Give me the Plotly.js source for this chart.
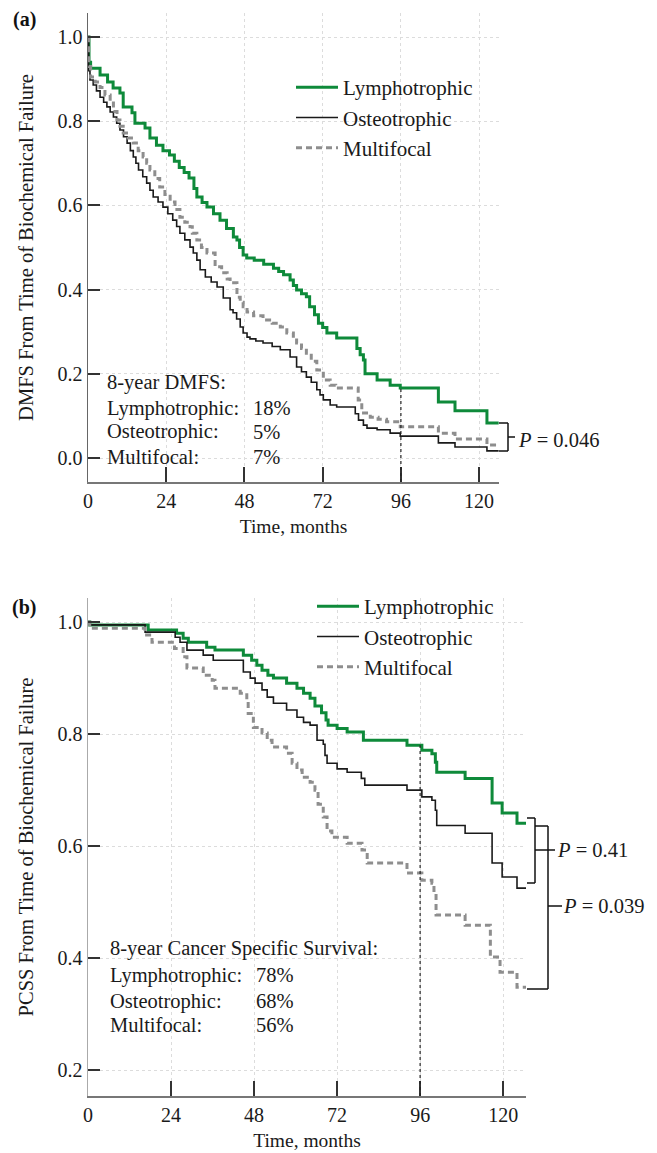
<!DOCTYPE html>
<html>
<head>
<meta charset="utf-8">
<script src="https://cdn.plot.ly/plotly-3.0.1.min.js"></script>
<style>html,body{margin:0;padding:0;background:#fff;}#chart{width:657px;height:1153px;}</style>
</head>
<body>
<div id="chart"></div>
<script>
// ---------- DATA ----------
var seriesNames = ['Lymphotrophic', 'Osteotrophic', 'Multifocal'];
var xTicks = [0, 24, 48, 72, 96, 120];
var yTicksA = [0.0, 0.2, 0.4, 0.6, 0.8, 1.0];
var yTicksB = [0.2, 0.4, 0.6, 0.8, 1.0];

// Panel (a): DMFS step curves (time in months, survival)
var dmfsLymphT = [0,0.3,0.8,3.7,6,7.7,9.8,10.8,13.5,14.4,17.5,19,21,23,25,26.5,28,29.5,31,32.5,33.4,35,36.5,38.5,40.5,42.5,44.6,45.7,46.5,47.6,48.7,51,53.9,56.9,58.5,60,62,63,64,65.5,67,68,69.5,70.7,72,73.3,76.3,82.5,83.5,84.5,85,88.7,92.7,95.8,107.5,112.6,122.4,126];
var dmfsLymphS = [1.0,0.94,0.926,0.91,0.893,0.879,0.867,0.834,0.82,0.795,0.784,0.76,0.743,0.73,0.72,0.705,0.69,0.678,0.665,0.64,0.62,0.607,0.596,0.58,0.565,0.545,0.525,0.518,0.50,0.482,0.475,0.470,0.46,0.451,0.443,0.435,0.423,0.41,0.399,0.39,0.383,0.359,0.34,0.32,0.31,0.297,0.285,0.26,0.245,0.233,0.2,0.185,0.173,0.166,0.133,0.112,0.083,0.083];

var dmfsOsteoT = [0,0.2,0.6,1.6,2.6,3.7,4.8,5.8,6.8,7.8,8.8,9.8,10.9,12,13,13.9,14.7,15.5,16.8,18,19,20,21.5,23,24.5,26,27.2,28.2,29.7,31.3,32.3,33.4,34.4,36,37.8,39.6,41.5,43.6,44.5,45.6,46.7,47.6,48.8,49.7,51.5,53.7,56.5,59,62,64,65.5,67,68.5,70.2,71.2,72.2,74.3,76.3,82,83,84.5,85.6,88.7,92.7,95.8,107.5,112.6,122.4,126];
var dmfsOsteoS = [1.0,0.92,0.898,0.886,0.872,0.857,0.845,0.834,0.822,0.81,0.795,0.779,0.763,0.748,0.73,0.715,0.70,0.684,0.668,0.653,0.636,0.62,0.608,0.596,0.58,0.565,0.55,0.534,0.518,0.501,0.487,0.47,0.447,0.43,0.418,0.406,0.38,0.352,0.345,0.33,0.311,0.297,0.287,0.283,0.278,0.273,0.265,0.257,0.24,0.216,0.205,0.192,0.18,0.162,0.15,0.138,0.126,0.121,0.105,0.09,0.078,0.071,0.067,0.059,0.052,0.036,0.026,0.017,0.017];

var dmfsMultiT = [0,0.2,0.8,2.2,3.7,5.2,6.8,7.8,8.9,9.8,10.8,12.3,13.9,15.4,16.9,18,19,20.5,22,23.6,25.2,26.7,28.2,29.7,31.3,32,33.4,34.8,36.5,39,41,42.7,43.6,45.7,46.7,47.6,48.8,50.8,53.7,56.5,59,61,63,64,65.5,67,68.5,70.2,72.2,74.3,76,82.9,84,86.6,89,91.6,95.8,107.5,112.6,122.4,126];
var dmfsMultiS = [1.0,0.93,0.905,0.893,0.88,0.862,0.843,0.823,0.803,0.788,0.772,0.76,0.748,0.73,0.715,0.70,0.684,0.664,0.644,0.626,0.608,0.59,0.572,0.56,0.549,0.534,0.518,0.50,0.487,0.454,0.44,0.425,0.416,0.382,0.37,0.359,0.347,0.338,0.328,0.32,0.311,0.297,0.285,0.273,0.26,0.249,0.23,0.209,0.185,0.173,0.166,0.138,0.107,0.097,0.092,0.086,0.074,0.059,0.045,0.031,0.031];

// Panel (b): PCSS step curves
var pcssLymphT = [0,0.5,17.4,25.6,27.5,29,34.3,36.7,44.9,47.3,48.8,50.3,52,53.6,57.4,60.4,62.3,64.2,65.6,67.5,68.8,69.4,72,74.9,79.6,92.2,96.5,99.4,100.4,100.8,109,116.8,119.7,124,126.6];
var pcssLymphS = [1.0,0.995,0.986,0.98,0.971,0.964,0.955,0.95,0.941,0.932,0.923,0.914,0.905,0.9,0.891,0.882,0.873,0.864,0.85,0.838,0.825,0.816,0.81,0.804,0.789,0.78,0.771,0.765,0.75,0.732,0.721,0.677,0.659,0.641,0.641];

var pcssOsteoT = [0,0.5,16.5,25.2,26.6,28.6,33.3,36.2,44.9,46.9,48.3,50.3,51.8,53.6,57.4,60.4,62.3,64.2,66.2,68,68.5,69.1,72,74.9,79,80,92.2,96.5,99.4,100.4,100.8,109,116.8,119.7,124,126.6];
var pcssOsteoS = [1.0,0.995,0.982,0.973,0.964,0.95,0.941,0.932,0.911,0.9,0.891,0.879,0.866,0.855,0.843,0.83,0.821,0.816,0.789,0.782,0.762,0.748,0.738,0.732,0.721,0.709,0.70,0.688,0.682,0.664,0.637,0.623,0.57,0.545,0.525,0.525];

var pcssMultiT = [0,0.5,16.5,18.5,25,27.5,28.6,33.3,35.9,36.7,44,45.9,46.3,47.8,50.3,51.8,53.2,57.4,59,60.4,61.9,64.2,65.6,66.5,68,69.1,70.5,74.9,79.2,80.7,92.2,96.5,99.4,100,100.6,109,116.3,119.1,124,126.6];
var pcssMultiS = [1.0,0.989,0.977,0.964,0.953,0.938,0.918,0.905,0.896,0.882,0.873,0.861,0.837,0.812,0.802,0.789,0.777,0.766,0.748,0.736,0.723,0.714,0.70,0.675,0.652,0.627,0.616,0.605,0.593,0.57,0.552,0.539,0.534,0.516,0.477,0.459,0.402,0.375,0.348,0.348];

var dmfsLabels = ['Lymphotrophic:', 'Osteotrophic:', 'Multifocal:'];
var dmfsPct = ['18%', '5%', '7%'];
var pcssPct = ['78%', '68%', '56%'];
var landmarkMonth = 96;
var pA = '0.046', pB1 = '0.41', pB2 = '0.039';

// ---------- STYLE / LAYOUT ----------
var W = 657, H = 1153;
var FONT = 'Liberation Serif, Times New Roman, serif';
var colors = ['#0e8a3a', '#1a1a1a', '#8e8e8e'];
var widths = [3, 1.6, 3];
var dashes = ['solid', 'solid', '6px,4px'];
function px2x(p) { return p / W; }
function px2y(p) { return 1 - p / H; }

var rangeXA = [0, 126.1], rangeYA = [-0.057, 1.057];
var rangeXB = [0, 126.6], rangeYB = [0.154, 1.043];

function stepAt(T, S, t) {
  var v = S[0];
  for (var i = 0; i < T.length; i++) { if (T[i] <= t) v = S[i]; }
  return v;
}

function mk(T, S, i, xa, ya, lg, show) {
  return {
    x: T, y: S, type: 'scatter', mode: 'lines', name: seriesNames[i],
    xaxis: xa, yaxis: ya, legend: lg, showlegend: show,
    line: { color: colors[i], width: widths[i], dash: dashes[i], shape: 'hv' },
    hoverinfo: 'skip'
  };
}

var traces = [
  mk(dmfsLymphT, dmfsLymphS, 0, 'x', 'y', 'legend', true),
  mk(dmfsOsteoT, dmfsOsteoS, 1, 'x', 'y', 'legend', true),
  mk(dmfsMultiT, dmfsMultiS, 2, 'x', 'y', 'legend', true),
  mk(pcssLymphT, pcssLymphS, 0, 'x2', 'y2', 'legend2', true),
  mk(pcssOsteoT, pcssOsteoS, 1, 'x2', 'y2', 'legend2', true),
  mk(pcssMultiT, pcssMultiS, 2, 'x2', 'y2', 'legend2', true)
];

var tickFont = { family: FONT, size: 20, color: '#1a1a1a' };
function xAxis(domain, range, anchor) {
  return {
    domain: domain, range: range, anchor: anchor, tickvals: xTicks,
    ticks: 'inside', ticklen: 15, tickwidth: 2, tickcolor: '#333',
    showline: true, linecolor: '#777', linewidth: 2,
    showgrid: true, gridcolor: '#dcdcdc', griddash: 'dot', gridwidth: 1,
    zeroline: false, tickfont: tickFont, fixedrange: true,
    title: { text: 'Time, months', font: { family: FONT, size: 19.5, color: '#1a1a1a' }, standoff: 8 }
  };
}
function yAxis(domain, range, anchor, ticks, title, lc) {
  return {
    domain: domain, range: range, anchor: anchor, tickvals: ticks, tickformat: '.1f',
    ticks: 'inside', ticklen: 12, tickwidth: 2, tickcolor: '#333',
    showline: true, linecolor: lc, linewidth: 1.5,
    showgrid: true, gridcolor: '#dcdcdc', griddash: 'dot', gridwidth: 1,
    zeroline: false, tickfont: tickFont, fixedrange: true,
    title: { text: title, font: { family: FONT, size: 20.5, color: '#1a1a1a' }, standoff: 18 }
  };
}

var shapes = [];
// landmark dotted verticals at 96 months up to the Lymphotrophic curve
shapes.push({ type: 'line', xref: 'x', yref: 'y', x0: landmarkMonth, x1: landmarkMonth,
  y0: rangeYA[0], y1: stepAt(dmfsLymphT, dmfsLymphS, landmarkMonth), line: { color: '#222', width: 1.2, dash: 'dot' } });
shapes.push({ type: 'line', xref: 'x2', yref: 'y2', x0: landmarkMonth, x1: landmarkMonth,
  y0: rangeYB[0], y1: stepAt(pcssLymphT, pcssLymphS, landmarkMonth), line: { color: '#222', width: 1.2, dash: 'dot' } });

function seg(x0, y0, x1, y1) {
  shapes.push({ type: 'line', xref: 'paper', yref: 'paper', x0: px2x(x0), y0: px2y(y0), x1: px2x(x1), y1: px2y(y1),
    line: { color: '#111', width: 1.5 } });
}
// bracket (a)
seg(499, 423, 508, 423); seg(508, 423, 508, 451); seg(499, 451, 508, 451); seg(508, 437, 515, 437);
// bracket (b) 1
seg(527, 818, 535, 818); seg(535, 818, 535, 883); seg(527, 883, 535, 883); seg(535, 850, 555, 850);
// bracket (b) 2
seg(535, 826, 548, 826); seg(548, 826, 548, 989); seg(527, 989, 548, 989); seg(548, 906, 562, 906);

var annFont = { family: FONT, size: 20.5, color: '#1a1a1a' };
var annotations = [];
function txt(t, x, y, extra) {
  var a = { text: t, xref: 'paper', yref: 'paper', x: px2x(x), y: px2y(y), xanchor: 'left', yanchor: 'middle',
    showarrow: false, font: annFont, borderpad: 0 };
  if (extra) for (var k in extra) a[k] = extra[k];
  annotations.push(a);
}
txt('<b>(a)</b>', 12, 20, { font: { family: FONT, size: 20, color: '#111' } });
txt('<b>(b)</b>', 11, 607, { font: { family: FONT, size: 20, color: '#111' } });

txt('8-year DMFS:', 106, 382);
var rowsA = [408, 432, 457];
for (var i = 0; i < 3; i++) { txt(dmfsLabels[i], 106, rowsA[i]); txt(dmfsPct[i], 252, rowsA[i]); }
txt('8-year Cancer Specific Survival:', 109, 948);
var rowsB = [975, 1001, 1025];
for (var j = 0; j < 3; j++) { txt(dmfsLabels[j], 109, rowsB[j]); txt(pcssPct[j], 255, rowsB[j]); }

txt('<i>P</i> = ' + pA, 517, 440);
txt('<i>P</i> = ' + pB1, 556, 850);
txt('<i>P</i> = ' + pB2, 562, 906);

var legFont = { family: FONT, size: 21, color: '#1a1a1a' };
var layout = {
  width: W, height: H, autosize: false,
  margin: { l: 0, r: 0, t: 0, b: 0 },
  paper_bgcolor: '#fff', plot_bgcolor: '#fff',
  font: { family: FONT, color: '#1a1a1a' },
  hovermode: false,
  xaxis: xAxis([88 / W, 499 / W], rangeXA, 'y'),
  yaxis: yAxis([1 - 482 / H, 1 - 13 / H], rangeYA, 'x', yTicksA, 'DMFS From Time of Biochemical Failure', '#666'),
  xaxis2: xAxis([88 / W, 526 / W], rangeXB, 'y2'),
  yaxis2: yAxis([1 - 1096 / H, 1 - 598 / H], rangeYB, 'x2', yTicksB, 'PCSS From Time of Biochemical Failure', '#aaa'),
  legend: { x: px2x(291), y: px2y(67), xanchor: 'left', yanchor: 'top', font: legFont, bgcolor: 'rgba(0,0,0,0)',
    itemwidth: 42, tracegroupgap: 0, traceorder: 'normal' },
  legend2: { x: px2x(312), y: px2y(586), xanchor: 'left', yanchor: 'top', font: legFont, bgcolor: 'rgba(0,0,0,0)',
    itemwidth: 42, tracegroupgap: 0, traceorder: 'normal' },
  shapes: shapes,
  annotations: annotations
};

Plotly.newPlot('chart', traces, layout, { staticPlot: true, displayModeBar: false });
</script>
</body>
</html>
